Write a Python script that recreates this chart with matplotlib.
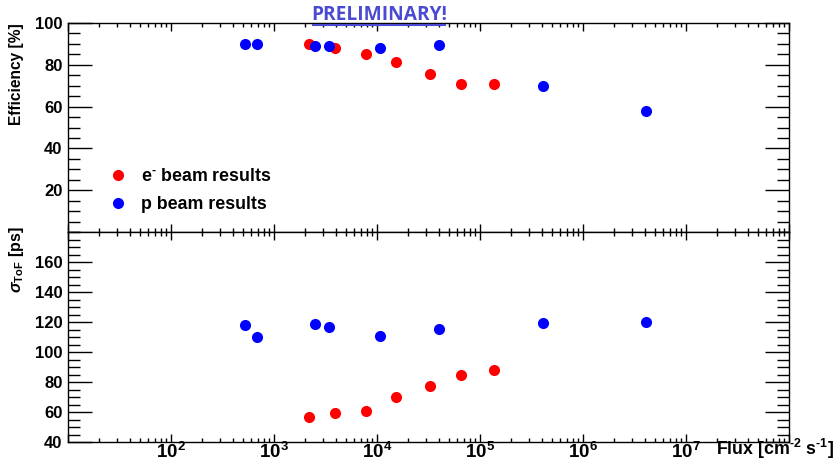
import numpy as np
import matplotlib
matplotlib.use("Agg")
import matplotlib.pyplot as plt
from matplotlib.ticker import FixedLocator, LogLocator, MultipleLocator, NullFormatter, FixedFormatter
from matplotlib.lines import Line2D

plt.rcParams['font.family'] = ['Liberation Sans', 'DejaVu Sans']
plt.rcParams['font.weight'] = 'bold'
plt.rcParams['mathtext.fontset'] = 'custom'
plt.rcParams['mathtext.rm'] = 'Liberation Sans:bold'
plt.rcParams['mathtext.bf'] = 'Liberation Sans:bold'
plt.rcParams['mathtext.it'] = 'Liberation Sans:italic'

# electron beam
e_flux = [2190, 3940, 7810, 15300, 32700, 64900, 136000]
e_eff = [89.8, 87.8, 85.4, 81.3, 75.4, 71.0, 71.0]
e_tof = [56.7, 59.5, 60.9, 70.0, 77.5, 84.6, 87.7]

# proton beam
p_flux = [523, 684, 2500, 3420, 10600, 40000, 405000, 4.09e6]
p_eff = [89.8, 89.8, 89.1, 89.0, 87.8, 89.4, 69.9, 57.7]
p_tof = [118.0, 109.8, 119.0, 116.4, 110.4, 115.3, 119.3, 119.8]

decades = [1e1, 1e2, 1e3, 1e4, 1e5, 1e6, 1e7, 1e8]
decade_labels = ['', r'$\mathbf{10^{2}}$', r'$\mathbf{10^{3}}$', r'$\mathbf{10^{4}}$',
                 r'$\mathbf{10^{5}}$', r'$\mathbf{10^{6}}$', r'$\mathbf{10^{7}}$', '']

fig = plt.figure(figsize=(8.35, 4.66), dpi=100)
W, H = 835., 466.
x0, x1 = 68 / W, 789 / W
ax1 = fig.add_axes([x0, 1 - 232 / H, x1 - x0, (232 - 23) / H])
ax2 = fig.add_axes([x0, 1 - 442 / H, x1 - x0, (442 - 232) / H])

ms = 8
for ax, ey, py in [(ax1, e_eff, p_eff), (ax2, e_tof, p_tof)]:
    ax.plot(e_flux, ey, 'o', color='#ff0000', ms=ms, mec='none')
    ax.plot(p_flux, py, 'o', color='#0000ff', ms=ms, mec='none')
    ax.set_xscale('log')
    ax.set_xlim(1e1, 1e8)
    ax.xaxis.set_major_locator(FixedLocator(decades))
    ax.xaxis.set_minor_locator(LogLocator(base=10, subs=np.arange(2, 10), numticks=20))
    ax.xaxis.set_minor_formatter(NullFormatter())
    ax.yaxis.set_minor_locator(MultipleLocator(5))
    ax.tick_params(which='both', direction='in', top=True, right=True, labelsize=12, pad=4)
    ax.tick_params(axis='y', which='major', length=17, width=1)
    ax.tick_params(axis='y', which='minor', length=8.5, width=1)
    ax.tick_params(axis='x', which='major', length=6, width=1)
    ax.tick_params(axis='x', which='minor', length=3, width=1)
    for sp in ax.spines.values():
        sp.set_linewidth(1)

ax1.set_ylim(0, 100)
ax1.yaxis.set_major_locator(FixedLocator([20, 40, 60, 80, 100]))
ax1.xaxis.set_major_formatter(NullFormatter())

ax2.set_ylim(40, 180)
ax2.yaxis.set_major_locator(FixedLocator([40, 60, 80, 100, 120, 140, 160]))
ax2.xaxis.set_major_formatter(FixedFormatter(decade_labels))
ax2.tick_params(axis='x', labelsize=13.5, pad=0)

# axis titles
fig.text(17 / W, 1 - 23 / H, 'Efficiency [%]', rotation=90, va='top', ha='center', fontsize=11.2)
fig.text(16 / W, 1 - 226 / H, r'$\sigma_{\mathbf{ToF}}$ [ps]', rotation=90, va='top', ha='center', fontsize=11.5)
fig.text(834 / W, 1 - 449 / H, 'Flux [cm$^{\\mathbf{\u2010}\\mathbf{2}}$ s$^{\\mathbf{\u2010}\\mathbf{1}}$]',
         ha='right', va='center', fontsize=12.8, fontweight='bold')

# legend
handles = [Line2D([], [], ls='none', marker='o', color='#ff0000', ms=ms, mec='none'),
           Line2D([], [], ls='none', marker='o', color='#0000ff', ms=ms, mec='none')]
ax1.legend(handles, ['e$^{\\mathbf{\u2010}}$ beam results', 'p beam results'],
           loc='upper left', bbox_to_anchor=(102 / W, 1 - 159 / H), bbox_transform=fig.transFigure,
           frameon=False, fontsize=12.8, handletextpad=0.9, labelspacing=0.62, borderpad=0, handlelength=0.8)

# preliminary stamp
fig.text(379 / W, 1 - 15 / H, 'PRELIMINARY!', ha='center', va='center', fontsize=13.8,
         color='#4b4bd2', family=['Open Sans', 'DejaVu Sans'], fontweight='bold')
fig.add_artist(Line2D([313 / W, 445 / W], [1 - 25 / H, 1 - 25 / H], color='#4b4bd2', lw=1.5))

fig.savefig('out.png', dpi=100)
